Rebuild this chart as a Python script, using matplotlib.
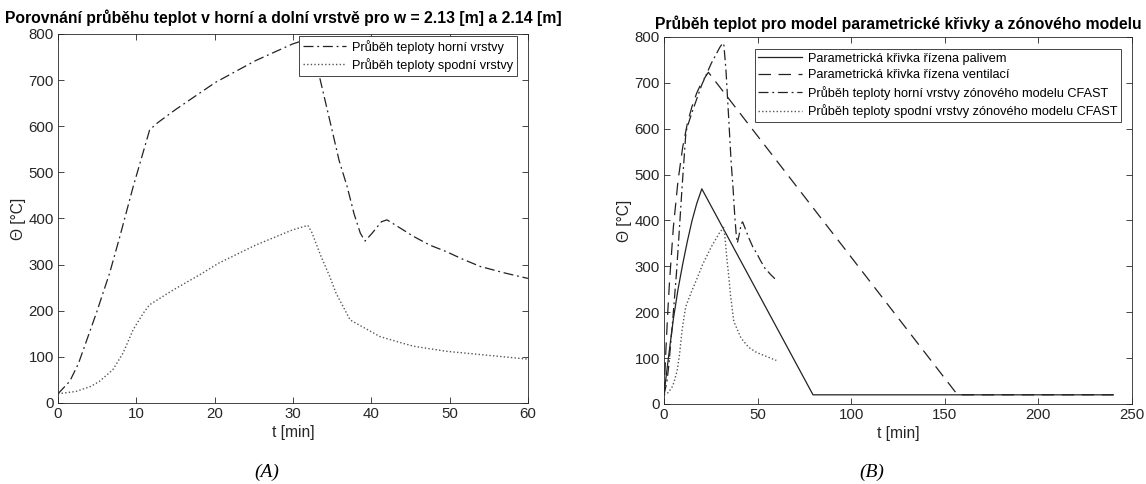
import matplotlib.pyplot as plt

plt.rcParams['font.family'] = ['Liberation Sans', 'DejaVu Sans']

# CFAST zone model - upper layer
t_upper = [0, 1.5, 2.6, 4.9, 6.6, 7.9, 9.6, 11.7, 12.6, 15, 20.1, 25.2, 29.9, 31.5, 32,
           33.1, 34.5, 35.9, 36.9, 37.8, 38.6, 39.2, 40.1, 41.3, 42, 43.9, 45.4, 47.5,
           49.6, 51.5, 53.9, 57, 60]
T_upper = [20, 47, 85, 195, 282, 361, 469, 592, 606, 636, 695, 742, 778, 787, 782,
           728, 627, 525, 470, 410, 368, 351, 368, 393, 397, 377, 361, 342,
           328, 313, 296, 282, 270]

# CFAST zone model - lower layer
t_lower = [0, 2.3, 4.2, 5.3, 7, 8.3, 9.6, 10.9, 11.7, 14.7, 18.1, 20.5, 25.2, 29.9, 31.9,
           32.4, 33.6, 34.7, 35.5, 37.3, 39.2, 41.1, 43.9, 45.4, 49.6, 53.9, 60]
T_lower = [20, 25, 36, 47, 72, 108, 159, 195, 213, 245, 278, 303, 342, 375, 385,
           370, 317, 274, 238, 180, 162, 144, 130, 123, 112, 105, 95]

# parametric curve - fuel controlled
t_fuel = [0, 1, 2.5, 5, 7.5, 10, 12.5, 15, 17.5, 20.2, 79.6, 240]
T_fuel = [20, 55, 105, 185, 250, 305, 355, 400, 437, 469, 20, 20]

# parametric curve - ventilation controlled
t_vent = [0, 1, 2, 3, 5, 7.5, 10, 12.5, 15, 17.5, 20, 23.7, 156.8, 240]
T_vent = [20, 116, 199, 270, 385, 487, 560, 612, 649, 678, 700, 723, 20, 20]

lbl_upper_a = 'Průběh teploty horní vrstvy'
lbl_lower_a = 'Průběh teploty spodní vrstvy'
lbl_fuel = 'Parametrická křivka řízena palivem'
lbl_vent = 'Parametrická křivka řízena ventilací'
lbl_upper_b = 'Průběh teploty horní vrstvy zónového modelu CFAST'
lbl_lower_b = 'Průběh teploty spodní vrstvy zónového modelu CFAST'

axis_col = '#262626'
line_col = '#222222'
dot_col = '#555555'

ls_dash = (0, (10, 6))
ls_dashdot = (0, (8, 3, 1.5, 3))
ls_dot = (0, (1, 1.6))


def style_axes(ax, xmax, xstep):
    ax.set_xlim(0, xmax)
    ax.set_ylim(0, 800)
    ax.set_xticks(range(0, xmax + 1, xstep))
    ax.set_yticks(range(0, 801, 100))
    ax.tick_params(direction='in', top=True, right=True, length=4, width=0.6,
                   colors=axis_col, labelsize=10.8, pad=3)
    for s in ax.spines.values():
        s.set_color(axis_col)
        s.set_linewidth(0.6)
    ax.set_xlabel('t [min]', fontsize=11.2, color=axis_col, labelpad=3)
    ax.set_ylabel('Θ [°C]', fontsize=11.2, color=axis_col, labelpad=2)


def add_legend(ax, anchor):
    leg = ax.legend(loc='upper right', bbox_to_anchor=anchor, borderaxespad=0,
                    fontsize=9.2, handlelength=3.4, handletextpad=0.45, labelspacing=0.35,
                    borderpad=0.3, fancybox=False, framealpha=1, edgecolor=axis_col)
    leg.get_frame().set_linewidth(0.6)


fig = plt.figure(figsize=(11.46, 4.84), dpi=100)
ax1 = fig.add_axes([0.0506, 0.1674, 0.4101, 0.7624])
ax2 = fig.add_axes([0.5794, 0.1653, 0.4084, 0.7583])

ax1.plot(t_upper, T_upper, color=line_col, lw=0.9, ls=ls_dashdot, label=lbl_upper_a)
ax1.plot(t_lower, T_lower, color=dot_col, lw=1.0, ls=ls_dot, label=lbl_lower_a)
style_axes(ax1, 60, 10)
ax1.set_title('Porovnání průběhu teplot v horní a dolní vrstvě pro w = 2.13 [m] a 2.14 [m]',
              fontsize=11.3, fontweight='bold', pad=8, x=0.48)
add_legend(ax1, (0.9766, 0.995))

ax2.plot(t_fuel, T_fuel, color=line_col, lw=0.9, label=lbl_fuel)
ax2.plot(t_vent, T_vent, color=line_col, lw=0.9, ls=ls_dash, label=lbl_vent)
ax2.plot(t_upper, T_upper, color=line_col, lw=0.9, ls=ls_dashdot, label=lbl_upper_b)
ax2.plot(t_lower, T_lower, color=dot_col, lw=1.0, ls=ls_dot, label=lbl_lower_b)
style_axes(ax2, 250, 50)
ax2.set_title('Průběh teplot pro model parametrické křivky a zónového modelu',
              fontsize=11.3, fontweight='bold', pad=6)
add_legend(ax2, (0.9765, 0.967))

fig.text(267 / 1146, 1 - 472 / 484, '(A)', family='Liberation Serif', style='italic',
         fontsize=14, ha='center', va='center')
fig.text(872 / 1146, 1 - 472 / 484, '(B)', family='Liberation Serif', style='italic',
         fontsize=14, ha='center', va='center')

fig.savefig('out.png', dpi=100)
